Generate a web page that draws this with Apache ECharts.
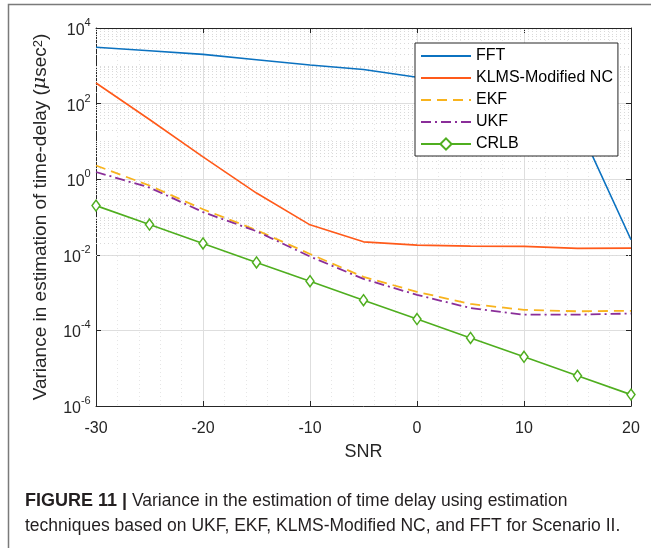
<!DOCTYPE html>
<html>
<head>
<meta charset="utf-8">
<script src="https://cdn.jsdelivr.net/npm/echarts@6/dist/echarts.min.js"></script>
<style>
  html, body { margin: 0; padding: 0; background: #fff; }
  #main { width: 651px; height: 548px; }
</style>
</head>
<body>
<div id="main"></div>
<script>
// SNR values (x axis)
var snr = [-30, -25, -20, -15, -10, -5, 0, 5, 10, 15, 20];
// variance per method
var fft = [3100, 2500, 2000, 1450, 1050, 800, 500, 350, 200, 30, 0.025];
var klms = [350, 38, 3.9, 0.43, 0.062, 0.022, 0.018, 0.017, 0.0167, 0.0148, 0.015];
var ekf = [2.3, 0.68, 0.16, 0.045, 0.0105, 0.0026, 0.00105, 0.0005, 0.00035, 0.00032, 0.00033];
var ukf = [1.55, 0.6, 0.135, 0.042, 0.009, 0.0023, 0.00087, 0.00039, 0.00026, 0.00026, 0.00028];
var crlb = [0.2, 0.063, 0.02, 0.0063, 0.002, 0.00063, 0.0002, 0.000063, 0.00002, 0.0000063, 0.000002];
var names = ['FFT', 'KLMS-Modified NC', 'EKF', 'UKF', 'CRLB'];

var font = 'Liberation Sans, Arial, Helvetica, sans-serif';

function pairs(ys) {
  return snr.map(function (x, i) { return [x, ys[i]]; });
}

// dotted minor grid at 2..9 x 10^k and odd decades
var minorLines = [];
for (var k = -6; k < 4; k++) {
  for (var m = 2; m <= 9; m++) minorLines.push({ yAxis: m * Math.pow(10, k) });
  if (k % 2 !== 0) minorLines.push({ yAxis: Math.pow(10, k) });
}

var chart = echarts.init(document.getElementById('main'));

var legendData = names.map(function (n) {
  // line-only icons except CRLB, which keeps its diamond
  return n === 'CRLB' ? { name: n } : { name: n, itemStyle: { opacity: 0 } };
});

var option = {
  backgroundColor: '#fff',
  animation: false,
  textStyle: { fontFamily: font },
  grid: { left: 96, right: 20, top: 28, bottom: 142 },
  legend: {
    data: legendData,
    orient: 'vertical',
    left: 415,
    top: 43,
    itemWidth: 50,
    itemHeight: 14,
    itemGap: 6,
    padding: [5, 5, 4, 5],
    backgroundColor: '#fff',
    borderColor: '#262626',
    borderWidth: 1,
    textStyle: { fontSize: 16, color: '#000', fontFamily: font }
  },
  xAxis: [{
    type: 'value',
    min: -30, max: 20, interval: 10,
    name: 'SNR',
    nameLocation: 'middle',
    nameGap: 37,
    nameTextStyle: { fontSize: 18, color: '#262626' },
    axisLine: { onZero: false, lineStyle: { color: '#262626', width: 1 } },
    axisTick: { inside: true, length: 5, lineStyle: { color: '#262626' } },
    axisLabel: { fontSize: 16, color: '#262626', margin: 15 },
    splitLine: { show: true, lineStyle: { color: '#dedede', width: 1 } },
    minorTick: { show: false, splitNumber: 5 },
    minorSplitLine: { show: true, lineStyle: { color: '#e6e6e6', type: [1, 3] } }
  }, {
    type: 'value', position: 'top',
    min: -30, max: 20, interval: 10,
    axisLine: { onZero: false, lineStyle: { color: '#262626', width: 1 } },
    axisTick: { inside: true, length: 5, lineStyle: { color: '#262626' } },
    axisLabel: { show: false },
    splitLine: { show: false }
  }],
  yAxis: [{
    type: 'log',
    logBase: 100,
    min: 1e-6, max: 1e4,
    name: '{a|Variance in estimation of time-delay (}{i|μ}{a|sec}{s|2}{a|)}',
    nameLocation: 'middle',
    nameGap: 46,
    nameTextStyle: {
      color: '#262626',
      rich: {
        a: { fontSize: 19, color: '#262626', fontFamily: font, lineHeight: 18, verticalAlign: 'bottom' },
        i: { fontSize: 19, color: '#262626', fontFamily: 'DejaVu Serif, serif', fontStyle: 'italic', lineHeight: 18, verticalAlign: 'bottom' },
        s: { fontSize: 13, color: '#262626', fontFamily: font, lineHeight: 13, verticalAlign: 'top' }
      }
    },
    axisLine: { show: true, onZero: false, lineStyle: { color: '#262626', width: 1 } },
    axisTick: { inside: true, length: 5, lineStyle: { color: '#262626' } },
    axisLabel: {
      margin: 5,
      formatter: function (v) {
        var e = Math.round(Math.log10(v));
        return '{b|10}{s|' + e + '}{h| }';
      },
      rich: {
        b: { fontSize: 16, color: '#262626', fontFamily: font, lineHeight: 16, verticalAlign: 'bottom' },
        s: { fontSize: 11, color: '#262626', fontFamily: font, lineHeight: 12, verticalAlign: 'top' },
        h: { fontSize: 1, lineHeight: 21 }
      }
    },
    splitLine: { show: true, lineStyle: { color: '#dedede', width: 1 } }
  }, {
    type: 'log', position: 'right',
    logBase: 100,
    min: 1e-6, max: 1e4,
    axisLine: { show: true, onZero: false, lineStyle: { color: '#262626', width: 1 } },
    axisTick: { inside: true, length: 5, lineStyle: { color: '#262626' } },
    axisLabel: { show: false },
    splitLine: { show: false }
  }],
  series: [
    {
      name: 'minor-grid', type: 'line', data: [], silent: true, z: 1,
      markLine: {
        silent: true, z: 1, symbol: 'none', label: { show: false },
        lineStyle: { color: '#d9d9d9', type: [1, 3], width: 1 },
        data: minorLines
      }
    },
    {
      name: 'FFT', type: 'line', data: pairs(fft), symbol: 'none',
      color: '#0b72c0',
      lineStyle: { width: 1.6, color: '#0b72c0' }
    },
    {
      name: 'KLMS-Modified NC', type: 'line', data: pairs(klms), symbol: 'none',
      color: '#ff5a1a',
      lineStyle: { width: 1.6, color: '#ff5a1a' }
    },
    {
      name: 'EKF', type: 'line', data: pairs(ekf), symbol: 'none',
      color: '#f8b31d',
      lineStyle: { width: 1.8, color: '#f8b31d', type: [10, 6] }
    },
    {
      name: 'UKF', type: 'line', data: pairs(ukf), symbol: 'none',
      color: '#8a2e99',
      lineStyle: { width: 1.8, color: '#8a2e99', type: [10, 4, 2, 4] }
    },
    {
      name: 'CRLB', type: 'line', data: pairs(crlb),
      symbol: 'diamond', symbolSize: [8, 11],
      color: '#4fae1f',
      lineStyle: { width: 1.6, color: '#4fae1f' },
      itemStyle: { color: '#fff', borderColor: '#4fae1f', borderWidth: 1.5 }
    }
  ],
  graphic: [
    {
      type: 'polyline',
      shape: { points: [[8.5, 548], [8.5, 4.5], [651, 4.5]] },
      style: { stroke: '#7a7a7a', lineWidth: 1.5, fill: null }
    },
    {
      type: 'text', left: 25, top: 492,
      style: {
        text: '{b|FIGURE 11 |} Variance in the estimation of time delay using estimation',
        font: '17.5px ' + font,
        fill: '#231f20',
        rich: { b: { fontWeight: 'bold', fontSize: 18, fontFamily: font, fill: '#231f20' } }
      }
    },
    {
      type: 'text', left: 25, top: 517,
      style: {
        text: 'techniques based on UKF, EKF, KLMS-Modified NC, and FFT for Scenario II.',
        font: '17.5px ' + font,
        fill: '#231f20'
      }
    }
  ]
};

chart.setOption(option);
</script>
</body>
</html>
